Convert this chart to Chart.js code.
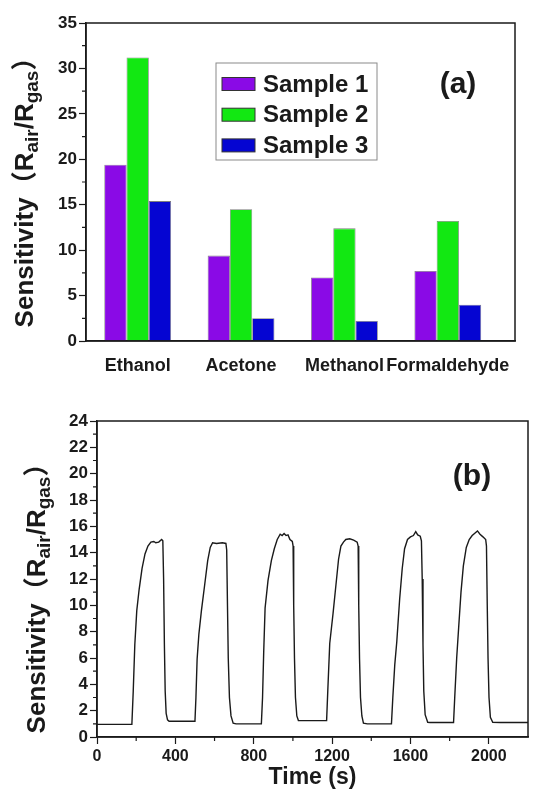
<!DOCTYPE html>
<html>
<head>
<meta charset="utf-8">
<script src="https://cdn.jsdelivr.net/npm/chart.js@4.4.1/dist/chart.umd.min.js"></script>
<style>
  html, body { margin: 0; padding: 0; background: #fff; }
  .panel { position: absolute; left: 0; width: 538px; }
  #panel-a { top: 0; height: 385px; }
  #panel-b { top: 395px; height: 396px; }
</style>
</head>
<body>
<div class="panel" id="panel-a"><canvas id="gasChart"></canvas></div>
<div class="panel" id="panel-b"><canvas id="cycleChart"></canvas></div>
<script>
// ---- data (a): sensitivity of each sample to each gas
const gases = ['Ethanol', 'Acetone', 'Methanol', 'Formaldehyde'];
const sampleNames = ['Sample 1', 'Sample 2', 'Sample 3'];
const sample1 = [19.4, 9.4, 7.0, 7.7];
const sample2 = [31.2, 14.5, 12.4, 13.2];
const sample3 = [15.4, 2.5, 2.2, 4.0];
const gasYTicks = [0, 5, 10, 15, 20, 25, 30, 35];

// ---- data (b): response / recovery cycles
const cycleTime = [
  0, 178, 185, 193, 203, 215, 230, 245, 260, 275, 290, 300, 315, 330, 336, 340, 344, 348, 353, 360, 368, 500,
  505, 511, 520, 533, 550, 565, 578, 590, 610, 640, 658, 662, 666, 670, 676, 684, 695, 710, 839,
  845, 851, 858, 873, 890, 905, 920, 935, 945, 955, 965, 975, 985, 997, 1001, 1004, 1008, 1013, 1020, 1028, 1040, 1172,
  1178, 1188, 1205, 1220, 1233, 1245, 1258, 1270, 1290, 1310, 1328, 1333, 1336, 1340, 1345, 1352, 1360, 1380, 1503,
  1510, 1520, 1530, 1545, 1558, 1570, 1585, 1600, 1615, 1627, 1637, 1650, 1656, 1660, 1664, 1668, 1675, 1688, 1700, 1820,
  1826, 1836, 1846, 1858, 1870, 1885, 1900, 1915, 1930, 1942, 1955, 1970, 1984, 1988, 1992, 1996, 2001, 2008, 2020, 2060, 2200
];
const cycleSens = [
  0.96, 0.97, 3.5, 7.0, 9.6, 11.2, 12.8, 13.9, 14.5, 14.8, 14.85, 14.75, 14.8, 15.0, 14.9, 12.0, 7.0, 3.5, 1.8, 1.3, 1.2, 1.2,
  3.0, 5.9, 7.8, 9.6, 11.6, 13.4, 14.4, 14.75, 14.7, 14.75, 14.7, 14.2, 10.0, 6.0, 3.0, 1.6, 1.05, 1.0, 1.0,
  3.0, 6.5, 9.8, 11.9, 13.4, 14.3, 15.0, 15.4, 15.3, 15.45, 15.3, 15.35, 15.0, 14.85, 14.5, 10.0, 6.0, 3.0, 1.6, 1.25, 1.24, 1.24,
  3.5, 7.1, 9.4, 11.6, 13.5, 14.5, 14.8, 15.0, 15.05, 14.95, 14.8, 14.5, 10.0, 6.0, 3.0, 1.6, 1.05, 1.0, 1.0,
  3.0, 5.5, 7.2, 10.5, 12.8, 14.3, 15.0, 15.2, 15.3, 15.6, 15.35, 15.25, 14.9, 12.0, 7.0, 3.5, 1.7, 1.12, 1.1, 1.1,
  3.0, 6.0, 8.3, 11.0, 13.0, 14.4, 15.0, 15.3, 15.5, 15.65, 15.4, 15.2, 15.0, 14.5, 10.0, 6.0, 3.0, 1.5, 1.12, 1.1, 1.1
];
const timeTicks = [0, 400, 800, 1200, 1600, 2000];
const cycleYTicks = [0, 2, 4, 6, 8, 10, 12, 14, 16, 18, 20, 22, 24];

const barColors = ['#8a0ae6', '#12e812', '#0505d2'];
const FONT = '"Liberation Sans", Arial, sans-serif';
const INK = '#1a1a1a';

Chart.defaults.font.family = FONT;
Chart.defaults.color = INK;

const setTicks = (values) => (scale) => {
  scale.ticks = values.map(v => ({ value: v }));
};

const midpoints = (ticks) => {
  const out = [];
  for (let i = 1; i < ticks.length; i++) out.push((ticks[i - 1].value + ticks[i].value) / 2);
  return out;
};

// frame, minor ticks, y title with subscripts, panel tag and (optional) legend
const decor = {
  id: 'decor',
  afterDraw(chart, args, opts) {
    const { ctx, chartArea: a, scales } = chart;
    ctx.save();
    ctx.strokeStyle = INK;
    ctx.lineWidth = 1.5;
    ctx.strokeRect(a.left, a.top, a.right - a.left, a.bottom - a.top);

    ctx.lineWidth = 1.2;
    ctx.beginPath();
    midpoints(scales.y.ticks).forEach(v => {
      const p = scales.y.getPixelForValue(v);
      ctx.moveTo(a.left - 4, p);
      ctx.lineTo(a.left, p);
    });
    if (opts.xMinor) {
      const xt = scales.x.ticks;
      midpoints(xt).concat([xt[xt.length - 1].value + (xt[1].value - xt[0].value) / 2]).forEach(v => {
        if (v >= scales.x.max) return;
        const p = scales.x.getPixelForValue(v);
        ctx.moveTo(p, a.bottom);
        ctx.lineTo(p, a.bottom + 4);
      });
    }
    ctx.stroke();

    // y title: Sensitivity（Rair/Rgas）
    const parts = [
      ['Sensitivity\uFF08R', 0], ['air', 1], ['/R', 0], ['gas', 1], ['\uFF09', 0]
    ];
    const big = `bold 26px ${FONT}, "Noto Sans CJK SC"`;
    const small = `bold 19px ${FONT}`;
    let total = 0;
    parts.forEach(([t, sub]) => { ctx.font = sub ? small : big; total += ctx.measureText(t).width; });
    ctx.translate(opts.titleX, (a.top + a.bottom) / 2 + opts.titleShift);
    ctx.rotate(-Math.PI / 2);
    ctx.fillStyle = INK;
    ctx.textBaseline = 'alphabetic';
    ctx.textAlign = 'left';
    let x = -total / 2;
    parts.forEach(([t, sub]) => {
      ctx.font = sub ? small : big;
      ctx.fillText(t, x, sub ? 5 : 0);
      x += ctx.measureText(t).width;
    });
    ctx.setTransform(1, 0, 0, 1, 0, 0);

    // panel tag
    ctx.font = `bold 30px ${FONT}`;
    ctx.textAlign = 'center';
    ctx.textBaseline = 'middle';
    ctx.fillText(opts.tag, a.right + opts.tagDx, a.top + opts.tagDy);

    // legend drawn inside the plot
    if (opts.legend) {
      const L = opts.legend;
      ctx.strokeStyle = '#8a8a8a';
      ctx.lineWidth = 1;
      ctx.strokeRect(L.x, L.y, L.w, L.h);
      ctx.font = `bold 24px ${FONT}`;
      ctx.textAlign = 'left';
      chart.data.datasets.forEach((ds, i) => {
        const cy = L.y + 21 + i * 30.7;
        ctx.fillStyle = ds.backgroundColor;
        ctx.fillRect(L.x + 6, cy - 6.5, 33, 13);
        ctx.strokeStyle = '#333';
        ctx.strokeRect(L.x + 6, cy - 6.5, 33, 13);
        ctx.fillStyle = INK;
        ctx.fillText(ds.label, L.x + 47, cy + 1);
      });
    }
    ctx.restore();
  }
};

const ctx1 = document.getElementById('gasChart');

new Chart(ctx1, {
  type: 'bar',
  data: {
    datasets: [sample1, sample2, sample3].map((vals, i) => ({
      label: sampleNames[i],
      data: vals.map((v, j) => ({ x: j + 1, y: v })),
      backgroundColor: barColors[i],
      borderColor: 'rgba(40,40,40,0.6)',
      borderWidth: 0.8,
      categoryPercentage: 0.646,
      barPercentage: 1
    }))
  },
  options: {
    responsive: true,
    maintainAspectRatio: false,
    animation: false,
    layout: { padding: { top: 23, right: 23, left: 0, bottom: 0 } },
    plugins: {
      legend: { display: false },
      tooltip: { enabled: false },
      decor: {
        titleX: 33, titleShift: 4, tag: '(a)', tagDx: -57, tagDy: 62,
        legend: { x: 216, y: 63, w: 161, h: 97 }
      }
    },
    scales: {
      x: {
        type: 'linear',
        min: 0.5,
        max: 4.65,
        offset: false,
        afterBuildTicks: setTicks(gases.map((g, i) => i + 1)),
        ticks: {
          callback: (v) => gases[v - 1] || '',
          font: { size: 18, weight: 'bold' },
          color: INK,
          padding: 14,
          maxRotation: 0,
          autoSkip: false
        },
        grid: { display: false, drawTicks: false, offset: false },
        border: { display: true, color: INK, width: 1.5 },
        afterFit: (s) => { s.height = 44; }
      },
      y: {
        min: 0,
        max: 35,
        afterBuildTicks: setTicks(gasYTicks),
        ticks: { font: { size: 17, weight: 'bold' }, color: INK, padding: 2 },
        grid: { drawOnChartArea: false, drawTicks: true, tickLength: 7, tickColor: INK, tickWidth: 1.2 },
        border: { display: true, color: INK, width: 1.5 },
        afterFit: (s) => { s.width = 86; }
      }
    }
  },
  plugins: [decor]
});

const ctx2 = document.getElementById('cycleChart');

new Chart(ctx2, {
  type: 'line',
  data: {
    datasets: [{
      label: 'Sensitivity',
      data: cycleTime.map((t, i) => ({ x: t, y: cycleSens[i] })),
      borderColor: INK,
      borderWidth: 1.4,
      pointRadius: 0,
      tension: 0,
      fill: false
    }]
  },
  options: {
    responsive: true,
    maintainAspectRatio: false,
    animation: false,
    layout: { padding: { top: 26, right: 10, left: 0, bottom: 0 } },
    plugins: {
      legend: { display: false },
      tooltip: { enabled: false },
      decor: { titleX: 45, titleShift: 13, tag: '(b)', tagDx: -56, tagDy: 56, xMinor: true }
    },
    scales: {
      x: {
        type: 'linear',
        min: 0,
        max: 2200,
        afterBuildTicks: setTicks(timeTicks),
        ticks: { callback: (v) => String(v), font: { size: 16, weight: 'bold' }, color: INK, padding: 3, maxRotation: 0 },
        grid: { drawOnChartArea: false, drawTicks: true, tickLength: 7, tickColor: INK, tickWidth: 1.2 },
        border: { display: true, color: INK, width: 1.5 },
        title: { display: true, text: 'Time (s)', font: { size: 23, weight: 'bold' }, color: INK, padding: { top: 1, bottom: 0 } },
        afterFit: (s) => { s.height = 54; }
      },
      y: {
        min: 0,
        max: 24,
        afterBuildTicks: setTicks(cycleYTicks),
        ticks: { font: { size: 17, weight: 'bold' }, color: INK, padding: 2 },
        grid: { drawOnChartArea: false, drawTicks: true, tickLength: 7, tickColor: INK, tickWidth: 1.2 },
        border: { display: true, color: INK, width: 1.5 },
        afterFit: (s) => { s.width = 97; }
      }
    }
  },
  plugins: [decor]
});
</script>
</body>
</html>
